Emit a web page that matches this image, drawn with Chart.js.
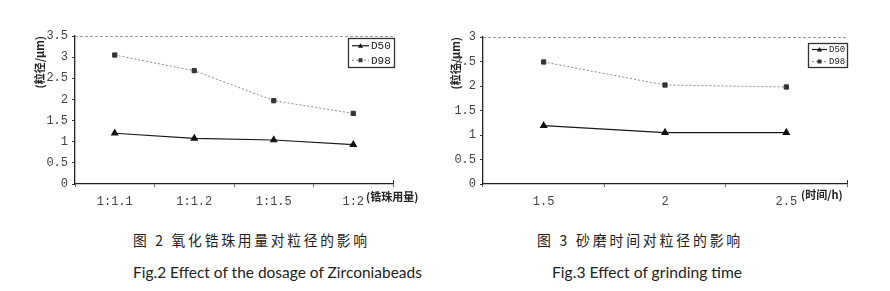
<!DOCTYPE html>
<html>
<head>
<meta charset="utf-8">
<script src="https://cdn.jsdelivr.net/npm/chart.js@4/dist/chart.umd.min.js"></script>
<style>
  html, body { margin:0; padding:0; background:#fff; }
  #wrap { position:relative; width:890px; height:291px; overflow:hidden; background:#fff; }
  .cbox { position:absolute; top:0; height:215px; }
  .cap { position:absolute; white-space:nowrap; color:#222; transform-origin:0 50%; line-height:1; }
  .zh { font-family:"Noto Sans CJK SC", sans-serif; font-size:15px; letter-spacing:3px; }
  .en { font-family:Lato, "Open Sans", sans-serif; font-size:16px; }
</style>
</head>
<body>
<div id="wrap">
  <div class="cbox" style="left:0;width:445px;"><canvas id="c1"></canvas></div>
  <div class="cbox" style="left:445px;width:445px;"><canvas id="c2"></canvas></div>
  <div class="cap zh" data-w="237" style="left:133px;top:232px;">图 2 氧化锆珠用量对粒径的影响</div>
  <div class="cap en" data-w="289" style="left:133px;top:264px;">Fig.2 Effect of the dosage of Zirconiabeads</div>
  <div class="cap zh" data-w="206" style="left:537px;top:232px;">图 3 砂磨时间对粒径的影响</div>
  <div class="cap en" data-w="190" style="left:552px;top:264px;">Fig.3 Effect of grinding time</div>
</div>
<script>
// ---- data ----
const categories1 = ['1:1.1', '1:1.2', '1:1.5', '1:2'];
const d50Dosage = [1.2, 1.08, 1.04, 0.93];
const d98Dosage = [3.05, 2.68, 1.97, 1.67];

const categories2 = ['1.5', '2', '2.5'];
const d50Time = [1.19, 1.05, 1.05];
const d98Time = [2.49, 2.02, 1.98];

const seriesNames = ['D50', 'D98'];
const yTitle = '(粒径/μm)';
const xTitle1 = '(锆珠用量)';
const xTitle2 = '(时间/h)';

// ---- plugins ----
const extrasPlugin = {
  id: 'extras',
  afterDatasetsDraw(chart, args, opts) {
    const ctx = chart.ctx, a = chart.chartArea;
    ctx.save();
    // dashed top frame line
    ctx.strokeStyle = '#9a9a9a'; ctx.lineWidth = 1; ctx.setLineDash([3, 2]);
    ctx.beginPath(); ctx.moveTo(a.left, a.top + 0.5); ctx.lineTo(a.right, a.top + 0.5); ctx.stroke();
    ctx.setLineDash([]);
    // x-axis name at the right end
    ctx.font = 'bold 11px "Noto Sans CJK SC", sans-serif';
    ctx.fillStyle = '#222';
    ctx.textBaseline = 'middle';
    ctx.textAlign = 'left';
    ctx.fillText(opts.xName, a.right + opts.xNameDx, a.bottom + opts.xNameDy);
    // small tick at right end of x axis
    ctx.strokeStyle = '#333'; ctx.lineWidth = 1;
    ctx.beginPath(); ctx.moveTo(a.right + 0.5, a.bottom); ctx.lineTo(a.right + 0.5, a.bottom - 4); ctx.stroke();
    // legend box
    const w = opts.lw, h = opts.lh;
    const x0 = a.right - w + opts.lx, y0 = a.top + opts.ly;
    ctx.fillStyle = '#fff';
    ctx.fillRect(x0, y0, w, h);
    ctx.strokeStyle = '#333'; ctx.lineWidth = 1.3;
    ctx.strokeRect(x0 + 0.5, y0 + 0.5, w, h);
    chart.data.datasets.forEach((ds, i) => {
      const yy = y0 + h * (i + 0.5) / 2 + 0.5;
      const lx1 = x0 + 4, lx2 = x0 + 4 + opts.sw;
      ctx.strokeStyle = ds.borderColor; ctx.lineWidth = ds.borderWidth;
      ctx.setLineDash(ds.borderDash || []);
      ctx.beginPath(); ctx.moveTo(lx1, yy); ctx.lineTo(lx2, yy); ctx.stroke();
      ctx.setLineDash([]);
      ctx.fillStyle = ds.pointBackgroundColor;
      const cx = (lx1 + lx2) / 2, r = 2.5;
      ctx.beginPath();
      if (ds.pointStyle === 'triangle') {
        ctx.moveTo(cx, yy - r); ctx.lineTo(cx + r, yy + r * 0.8); ctx.lineTo(cx - r, yy + r * 0.8); ctx.closePath();
      } else {
        ctx.rect(cx - 2, yy - 2, 4, 4);
      }
      ctx.fill();
      ctx.fillStyle = '#222';
      ctx.font = opts.lfont;
      ctx.textAlign = 'left';
      ctx.fillText(ds.label, lx2 + 2, yy + 0.5);
    });
    ctx.restore();
  }
};

function makeChart(id, cats, d50, d98, ymax, opt) {
  return new Chart(document.getElementById(id), {
    type: 'line',
    data: {
      labels: cats,
      datasets: [
        { label: seriesNames[0], data: d50, borderColor: '#1a1a1a', borderWidth: 1.2,
          pointStyle: 'triangle', pointRadius: 3.5, pointBackgroundColor: '#111', pointBorderColor: '#111',
          tension: 0 },
        { label: seriesNames[1], data: d98, borderColor: '#8a8a8a', borderWidth: 1, borderDash: [2, 2],
          pointStyle: 'rect', pointRadius: 3, pointBackgroundColor: '#333', pointBorderColor: '#333',
          tension: 0 }
      ]
    },
    options: {
      responsive: true, maintainAspectRatio: false, animation: false,
      layout: { padding: { left: opt.padLeft, right: opt.padRight, top: opt.padTop, bottom: 0 } },
      plugins: {
        legend: { display: false }, tooltip: { enabled: false },
        extras: opt.extras
      },
      scales: {
        x: {
          offset: true,
          border: { display: true, color: '#222', width: 1.3 },
          grid: { display: true, drawOnChartArea: false, offset: true, tickLength: 3, tickColor: '#666', color: '#666' },
          ticks: { color: '#444', padding: opt.xTickPad, font: { family: '"Liberation Mono", monospace', size: 12 } },
          afterFit(s) { s.height = 31; }
        },
        y: {
          min: 0, max: ymax,
          border: { display: true, color: '#222', width: 1.3 },
          grid: { drawOnChartArea: false, tickLength: 3, tickColor: '#333', color: '#333' },
          ticks: { stepSize: 0.5, color: '#444', padding: 4,
                   callback: (v) => String(v),
                   font: { family: '"Liberation Mono", monospace', size: 12 } },
          title: { display: true, text: yTitle, align: 'end', color: '#222',
                   font: { family: '"Noto Sans CJK SC", sans-serif', size: 11, weight: 'bold' }, padding: 0 },
          afterFit(s) { s.width = opt.yWidth; }
        }
      }
    },
    plugins: [extrasPlugin]
  });
}

makeChart('c1', categories1, d50Dosage, d98Dosage, 3.5, {
  padLeft: 33, padRight: 52, padTop: 36, yWidth: 42, xTickPad: 8,
  extras: { xName: xTitle1, xNameDx: -27, xNameDy: 13, lw: 46, lh: 29, lx: 1, ly: 2, sw: 17,
            lfont: '11px "Liberation Mono", monospace' }
});
makeChart('c2', categories2, d50Time, d98Time, 3, {
  padLeft: 4, padRight: 43, padTop: 37, yWidth: 34, xTickPad: 8,
  extras: { xName: xTitle2, xNameDx: -46, xNameDy: 11, lw: 39, lh: 24, lx: 0, ly: 6, sw: 15,
            lfont: '9px "Liberation Mono", monospace' }
});

// fit caption widths
document.querySelectorAll('.cap').forEach(el => {
  const target = parseFloat(el.dataset.w);
  const w = el.getBoundingClientRect().width;
  if (w > 0) el.style.transform = 'scaleX(' + (target / w).toFixed(3) + ')';
});
</script>
</body>
</html>
